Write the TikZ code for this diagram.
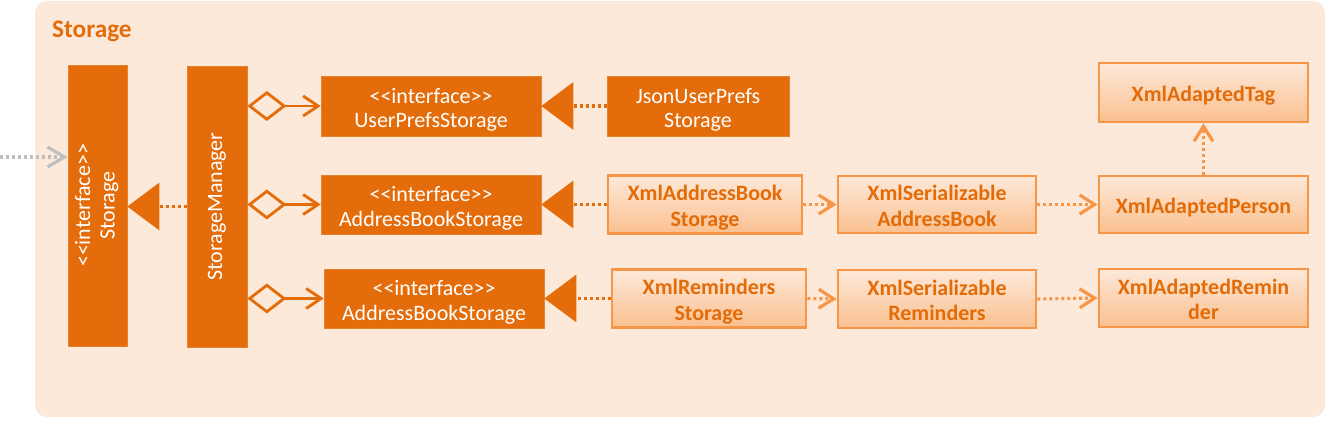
\documentclass[tikz,border=0pt]{standalone}
\usepackage{fontspec}
\setmainfont{Carlito}[Ligatures=TeXOff]
\usepackage{tikz}
\usetikzlibrary{arrows.meta}
\definecolor{bgpeach}{HTML}{FDE9D9}
\definecolor{darkorange}{HTML}{E46C0A}
\definecolor{lineorange}{HTML}{F79646}
\definecolor{textorange}{HTML}{E36C09}
\definecolor{shadeorange}{HTML}{FAC090}
\definecolor{greyarrow}{HTML}{BFBFBF}

\begin{document}
\begin{tikzpicture}
  [x=0.02cm,y=-0.02cm,
   darkbox/.style={rectangle,fill=darkorange,draw=darkorange!85!white,text=white,
     align=center,inner sep=0pt,font=\fontsize{12.5}{14}\selectfont},
   lightbox/.style={rectangle,draw=lineorange,line width=1.6pt,top color=bgpeach,
     bottom color=shadeorange,text=textorange,align=center,inner sep=0pt,
     font=\fontsize{12.5}{14.5}\selectfont\bfseries},
   twoline/.style={text height=25pt,text depth=0pt},
   oneline/.style={text height=10.5pt,text depth=0pt},
   realise/.style={draw=darkorange,line width=1.8pt,dash pattern=on 1.7pt off 1.7pt,
     -{Triangle[length=0.64cm,width=0.94cm,fill=darkorange]}},
   aggr/.style={draw=darkorange,line width=1.6pt,
     {Diamond[open,length=0.78cm,width=0.6cm]}-{Straight Barb[length=0.3cm,width=0.4cm]}},
   depend/.style={draw=lineorange,line width=1.8pt,dash pattern=on 1.7pt off 1.7pt,
     -{Straight Barb[length=0.3cm,width=0.38cm]}},
   external/.style={draw=greyarrow,line width=1.8pt,dash pattern=on 1.7pt off 1.7pt,
     -{Straight Barb[length=0.34cm,width=0.4cm]}}]

  \useasboundingbox (0,0) rectangle (1326,421);
  \fill[bgpeach,rounded corners=0.24cm] (35,1) rectangle (1325,417);
  \node[anchor=base west,text=darkorange,font=\fontsize{14.4}{16}\selectfont\bfseries]
    (title) at (46,38) {Storage};

  % left column
  \node[darkbox,minimum width=1.18cm,minimum height=5.62cm] (storage) at (97.5,205.5)
    {\rotatebox{90}{\begin{tabular}{@{}c@{}}<<interface>>\\Storage\end{tabular}}};
  \node[darkbox,minimum width=1.2cm,minimum height=5.62cm] (mgr) at (217,206.5)
    {\rotatebox{90}{StorageManager}};

  % interfaces
  \node[darkbox,twoline,minimum width=4.4cm,minimum height=1.2cm] (ups) at (431,106)
    {<<interface>>\\UserPrefsStorage};
  \node[darkbox,twoline,minimum width=4.4cm,minimum height=1.18cm] (abs) at (431,204.5)
    {<<interface>>\\AddressBookStorage};
  \node[darkbox,twoline,minimum width=4.4cm,minimum height=1.18cm] (rms) at (434,298.5)
    {<<interface>>\\AddressBookStorage};

  % implementations
  \node[darkbox,twoline,minimum width=3.64cm,minimum height=1.2cm] (json) at (698,106)
    {JsonUserPrefs\\Storage};
  \node[lightbox,twoline,minimum width=3.88cm,minimum height=1.16cm] (xabs) at (705,204.5)
    {XmlAddressBook\\Storage};
  \node[lightbox,twoline,minimum width=3.88cm,minimum height=1.16cm] (xrs) at (709,298.5)
    {XmlReminders\\Storage};
  \node[lightbox,twoline,minimum width=3.96cm,minimum height=1.14cm] (xsab) at (937,204.5)
    {XmlSerializable\\AddressBook};
  \node[lightbox,twoline,minimum width=3.96cm,minimum height=1.16cm] (xsr) at (937,299)
    {XmlSerializable\\Reminders};
  \node[lightbox,oneline,minimum width=4.18cm,minimum height=1.14cm] (xap) at (1203.5,204.5)
    {XmlAdaptedPerson};
  \node[lightbox,oneline,minimum width=4.18cm,minimum height=1.18cm] (xat) at (1203.5,92.5)
    {XmlAdaptedTag};
  \node[lightbox,twoline,minimum width=4.18cm,minimum height=1.16cm] (xar) at (1203.5,298)
    {XmlAdaptedRemin\\der};

  \coordinate (caller) at (0,157);
  \draw[external] (caller) -- (caller -| storage.west);
  \draw[realise] (mgr.west) -- (mgr.west -| storage.east);

  \foreach \to in {ups,abs,rms}
    \draw[aggr] (mgr.east |- \to.west) -- (\to.west);

  \foreach \from/\to in {json/ups,xabs/abs,xrs/rms}
    \draw[realise] (\from.west) -- (\to.east);

  \foreach \from/\to in {xabs/xsab,xsab/xap,xrs/xsr,xsr/xar}
    \draw[depend] (\from.east) -- (\to.west);
  \draw[depend] (xap.north) -- (xat.south);

\end{tikzpicture}
\end{document}
